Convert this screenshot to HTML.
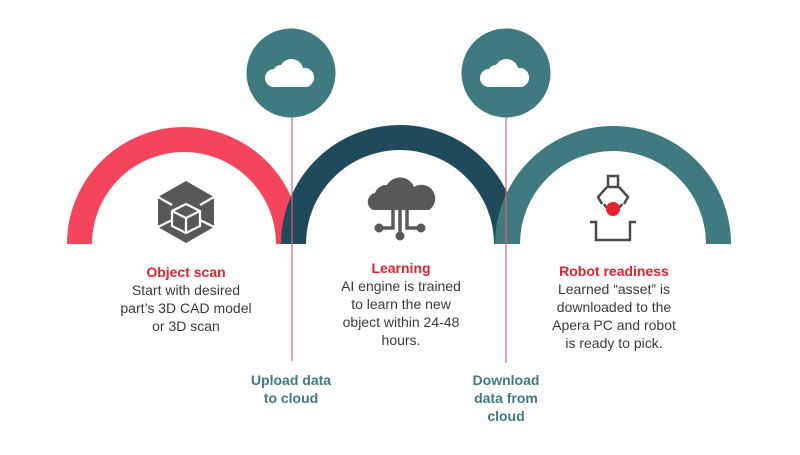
<!DOCTYPE html>
<html><head><meta charset="utf-8"><style>
body{margin:0;background:#fff;width:800px;height:450px;overflow:hidden}
svg text{font-family:"Liberation Sans",sans-serif;text-anchor:middle}
.t{font-size:14px;font-weight:bold;fill:#e0202f}
.b{font-size:14px;fill:#3a3a3a}
.g{font-size:14px;font-weight:bold;fill:#3f7a80}
</style></head><body>
<svg width="800" height="450" viewBox="0 0 800 450">
<defs>
<g id="cl"><path d="M-17,11 a9,9 0 0 1 0,-18 a8,8 0 0 1 7,-4 a12,12 0 0 1 22,3 a9.5,9.5 0 0 1 3,19 z" fill="#fff"/></g>
</defs>
<path d="M79.5,244 A104.5,104.5 0 0 1 288.5,244" fill="none" stroke="#f5455c" stroke-width="25"/>
<path d="M293.5,244 A106.5,106.5 0 0 1 506.5,244" fill="none" stroke="#1f4a5c" stroke-width="25"/>
<path d="M507.5,244 A105.5,105.5 0 0 1 718.5,244" fill="none" stroke="#3f7a80" stroke-width="25"/>
<line x1="292" y1="110" x2="292" y2="361" stroke="#e0606f" stroke-width="1.2"/>
<line x1="506" y1="110" x2="506" y2="363" stroke="#e0606f" stroke-width="1.2"/>
<circle cx="291" cy="73" r="44.5" fill="#3f7a80"/>
<circle cx="506" cy="73" r="44.5" fill="#3f7a80"/>
<use href="#cl" x="291" y="76"/>
<use href="#cl" x="506" y="76"/>
<!-- cube icon -->
<g transform="translate(186,212)">
<polygon points="0,-31 28,-15 28,15 0,31 -28,15 -28,-15" fill="#58585a"/>
<g stroke="#fff" stroke-width="2.2" fill="none">
<line x1="-28" y1="-15" x2="-14" y2="-7"/><line x1="28" y1="-15" x2="14" y2="-7"/>
<line x1="-28" y1="15" x2="-14" y2="8"/><line x1="28" y1="15" x2="14" y2="8"/>
<polygon points="-14,-1 0,-8 14,-1 14,14 0,21 -14,14"/>
<polyline points="-14,-1 0,6 14,-1"/><line x1="0" y1="6" x2="0" y2="21"/>
</g></g>
<!-- AI cloud icon -->
<g transform="translate(400,210)" fill="#58585a">
<path d="M-27,0 a9,9 0 0 1 2,-17 a12,12 0 0 1 12,-8 a15,15 0 0 1 27,2 a11,11 0 0 1 15,23 z"/>
<g stroke="#58585a" stroke-width="3.5" fill="none">
<polyline points="-7,0 -7,18 -18,18"/><line x1="0" y1="0" x2="0" y2="24"/><polyline points="7,0 7,18 18,18"/>
</g>
<circle cx="-21" cy="18" r="4.5"/><circle cx="21" cy="18" r="4.5"/><circle cx="0" cy="26" r="4.5"/>
</g>
<!-- robot icon -->
<g stroke="#4a4a4a" stroke-width="2.5" fill="none">
<rect x="608" y="176" width="10" height="11"/>
<polyline points="607,187 598,197 602,204"/><polyline points="619,187 628,197 624,204"/>
<path d="M604,204 a10,10 0 0 0 18,0"/>
<polyline points="590,222 596,222 596,240 630,240 630,222 636,222"/>
</g>
<circle cx="613" cy="209" r="7" fill="#e82030"/>
<text class="t" x="186" y="277">Object scan</text>
<text class="b" x="186" y="295">Start with desired</text>
<text class="b" x="186" y="313">part’s 3D CAD model</text>
<text class="b" x="186" y="331">or 3D scan</text>
<text class="t" x="401" y="273">Learning</text>
<text class="b" x="401" y="291">AI engine is trained</text>
<text class="b" x="401" y="309">to learn the new</text>
<text class="b" x="401" y="327">object within 24-48</text>
<text class="b" x="401" y="345">hours.</text>
<text class="t" x="614" y="276">Robot readiness</text>
<text class="b" x="614" y="294">Learned “asset” is</text>
<text class="b" x="614" y="312">downloaded to the</text>
<text class="b" x="614" y="330">Apera PC and robot</text>
<text class="b" x="614" y="348">is ready to pick.</text>
<text class="g" x="291" y="385">Upload data</text>
<text class="g" x="291" y="403">to cloud</text>
<text class="g" x="506" y="385">Download</text>
<text class="g" x="506" y="403">data from</text>
<text class="g" x="506" y="421">cloud</text>
</svg>
</body></html>
